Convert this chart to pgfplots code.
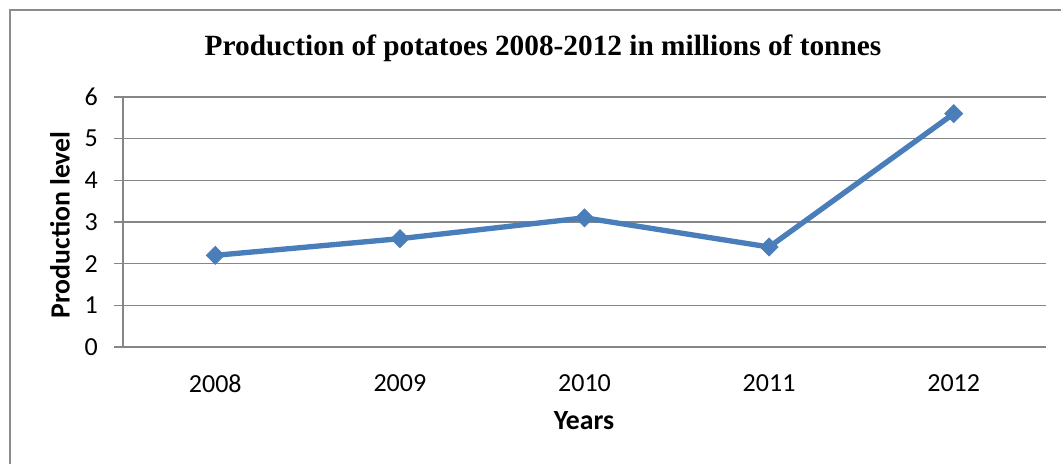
\documentclass[border=0pt]{standalone}
\usepackage{pgfplots}
\pgfplotsset{compat=1.18}
\usepackage{fontspec}
\setmainfont{Carlito}
\newfontfamily\titlefont{Liberation Serif}
\definecolor{excelblue}{RGB}{74,126,187}
\definecolor{gridgray}{RGB}{134,134,134}
\definecolor{framegray}{RGB}{140,140,140}
\begin{document}
\begin{tikzpicture}[x=0.75pt,y=0.75pt]
\useasboundingbox (0,0) rectangle (1061,464);
\fill[white] (0,0) rectangle (1061,464);
\draw[framegray, line width=1.5pt] (10,-10) -- (10,454) -- (1070,454);
\node[font={\titlefont\bfseries\fontsize{22}{26}\selectfont}] at (543,416) {Production of potatoes 2008-2012 in millions of tonnes};
\node[font={\bfseries\fontsize{20.8}{24}\selectfont}] at (584,43) {Years};
\node[font={\bfseries\fontsize{20.8}{24}\selectfont}, rotate=90] at (60,239) {Production level};
\begin{axis}[
  at={(92.25pt,87.75pt)}, anchor=south west,
  scale only axis,
  width=692.25pt, height=187.5pt,
  xmin=-0.5, xmax=4.5,
  ymin=0, ymax=6,
  xtick={0,1,2,3,4},
  xticklabels={2008,2009,2010,2011,2012},
  ytick={0,1,2,3,4,5,6},
  axis x line*=bottom,
  axis y line*=left,
  axis line style={gridgray, line width=1pt},
  ymajorgrids,
  grid style={gridgray, line width=1pt},
  tick align=outside,
  major tick length=6.75pt,
  xtick style={draw=none},
  ytick style={gridgray, line width=1pt},
  tick label style={font=\fontsize{19.5}{23}\selectfont, inner sep=0pt},
  /pgf/number format/assume math mode=true,
  yticklabel style={anchor=east, xshift=-12pt},
  xticklabel style={anchor=north, yshift=-13.5pt},
  clip=false,
]
\addplot[excelblue, line width=4pt, mark=square*, mark size=4.8pt,
  mark options={rotate=45, fill=excelblue, line width=0.5pt}]
  coordinates {(0,2.2) (1,2.6) (2,3.1) (3,2.4) (4,5.6)};
\end{axis}
\end{tikzpicture}
\end{document}
